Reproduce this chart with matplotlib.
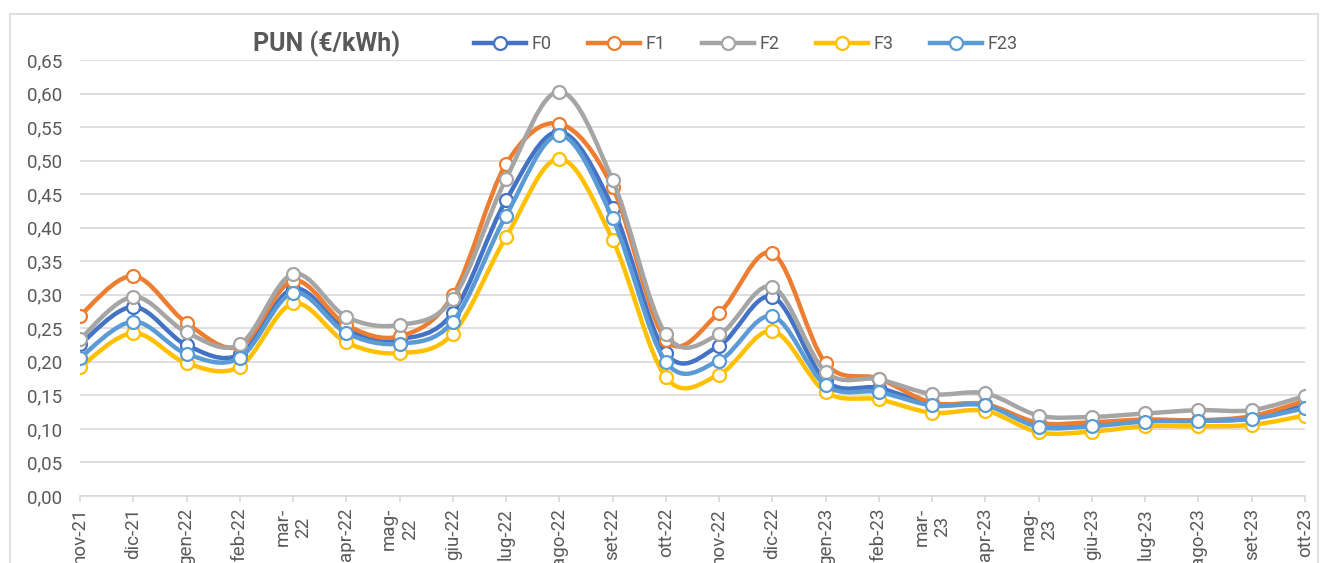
import matplotlib
matplotlib.use("Agg")
import matplotlib.pyplot as plt
from matplotlib.path import Path
from matplotlib.patches import PathPatch, Rectangle
from matplotlib.lines import Line2D
from matplotlib.ticker import FuncFormatter

plt.rcParams['font.family'] = ['Roboto', 'DejaVu Sans']

# months on the x axis (long ones wrap like in Excel)
months = ['nov-21', 'dic-21', 'gen-22', 'feb-22', 'mar-\n22', 'apr-22', 'mag-\n22',
          'giu-22', 'lug-22', 'ago-22', 'set-22', 'ott-22', 'nov-22', 'dic-22',
          'gen-23', 'feb-23', 'mar-\n23', 'apr-23', 'mag-\n23', 'giu-23', 'lug-23',
          'ago-23', 'set-23', 'ott-23']

# PUN by time band, €/kWh
f0 = [0.226, 0.282, 0.225, 0.211, 0.309, 0.248, 0.234, 0.273, 0.441, 0.543, 0.430, 0.213,
      0.224, 0.297, 0.172, 0.161, 0.137, 0.136, 0.106, 0.106, 0.112, 0.112, 0.116, 0.135]
f1 = [0.269, 0.328, 0.258, 0.223, 0.321, 0.255, 0.238, 0.299, 0.495, 0.555, 0.460, 0.233,
      0.273, 0.362, 0.198, 0.175, 0.139, 0.137, 0.109, 0.110, 0.114, 0.113, 0.119, 0.142]
f2 = [0.234, 0.297, 0.244, 0.226, 0.331, 0.267, 0.255, 0.294, 0.473, 0.603, 0.471, 0.241,
      0.241, 0.312, 0.185, 0.174, 0.152, 0.153, 0.120, 0.118, 0.123, 0.128, 0.128, 0.149]
f3 = [0.192, 0.243, 0.198, 0.193, 0.287, 0.229, 0.213, 0.242, 0.386, 0.503, 0.382, 0.177,
      0.181, 0.246, 0.155, 0.144, 0.124, 0.127, 0.095, 0.096, 0.104, 0.104, 0.106, 0.120]
f23 = [0.206, 0.260, 0.212, 0.206, 0.303, 0.243, 0.227, 0.260, 0.418, 0.538, 0.414, 0.200,
       0.202, 0.268, 0.165, 0.155, 0.135, 0.135, 0.103, 0.104, 0.111, 0.112, 0.115, 0.131]

names = ['F0', 'F1', 'F2', 'F3', 'F23']
colors = ['#4472C4', '#ED7D31', '#A5A5A5', '#FFC000', '#5B9BD5']
series = [f0, f1, f2, f3, f23]

TXT = '#595959'
GRID = '#D9D9D9'


def smooth_path(xs, ys):
    # Excel-like smoothed line: bezier segments through every data point
    pts = list(zip(xs, ys))
    n = len(pts)
    verts = [pts[0]]
    codes = [Path.MOVETO]
    for i in range(n - 1):
        p0 = pts[i - 1] if i > 0 else pts[i]
        p1 = pts[i]
        p2 = pts[i + 1]
        p3 = pts[i + 2] if i + 2 < n else pts[i + 1]
        c1 = (p1[0] + (p2[0] - p0[0]) / 6, p1[1] + (p2[1] - p0[1]) / 6)
        c2 = (p2[0] - (p3[0] - p1[0]) / 6, p2[1] - (p3[1] - p1[1]) / 6)
        verts += [c1, c2, p2]
        codes += [Path.CURVE4] * 3
    return Path(verts, codes)


fig = plt.figure(figsize=(13.21, 5.63), dpi=100)
ax = fig.add_axes([80 / 1321, 1 - 496 / 563, (1305 - 80) / 1321, (496 - 60) / 563])

x = list(range(len(months)))
for k, (vals, c) in enumerate(zip(series, colors)):
    ax.add_patch(PathPatch(smooth_path(x, vals), fill=False, edgecolor=c, lw=3.2,
                           capstyle='round', joinstyle='round', zorder=3 + 2 * k))
    ax.plot(x, vals, linestyle='none', marker='o', ms=9.3, mfc='white', mec=c,
            mew=1.6, zorder=4 + 2 * k)

ax.set_xlim(0, len(months) - 1)
ax.set_ylim(0, 0.65)
ax.set_yticks([i * 0.05 for i in range(14)])
ax.yaxis.set_major_formatter(FuncFormatter(lambda v, p: ('%.2f' % v).replace('.', ',')))
ax.set_xticks(x)
ax.set_xticklabels(months, rotation=90, multialignment='center')
ax.grid(axis='y', color=GRID, lw=1.2)
ax.set_axisbelow(True)
for s in ['top', 'right', 'left']:
    ax.spines[s].set_visible(False)
ax.spines['bottom'].set_color(GRID)
ax.spines['bottom'].set_linewidth(1.2)
ax.tick_params(axis='y', length=0, pad=13, labelsize=13.5, labelcolor=TXT)
ax.tick_params(axis='x', length=4.5, width=1.2, color=GRID, pad=4, labelsize=13.5,
               labelcolor=TXT)

fig.text(327 / 1321, 1 - 44 / 563, 'PUN (€/kWh)', ha='center', va='center',
         fontsize=18, fontweight='bold', color=TXT)

handles = [Line2D([], [], color=c, lw=3.2, marker='o', ms=9.3, mfc='white', mec=c, mew=1.6)
           for c in colors]
fig.legend(handles, names, ncol=5, loc='center left',
           bbox_to_anchor=(465 / 1321, 1 - 44 / 563), frameon=False, borderpad=0,
           handlelength=2.9, handletextpad=0.3, columnspacing=2.0,
           prop={'size': 13}, labelcolor=TXT)

# chart border
fig.add_artist(Rectangle((10 / 1321, -0.2), 1308 / 1321, 1.2 - 14 / 563,
                         transform=fig.transFigure, fill=False, ec=GRID, lw=1.2))

fig.savefig('out.png', dpi=100)
